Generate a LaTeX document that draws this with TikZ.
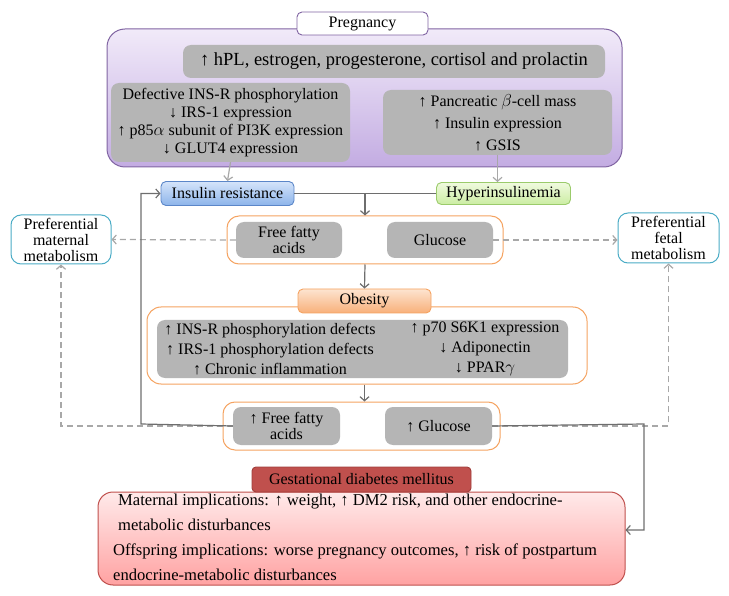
\documentclass[tikz,border=0pt]{standalone}
\usepackage{fontspec}
\setmainfont{Liberation Serif}
\usetikzlibrary{arrows.meta}

\definecolor{pregline}{HTML}{8064A2}
\definecolor{pregtop}{HTML}{F1EAF9}
\definecolor{pregbot}{HTML}{C3ACE2}
\definecolor{cellgray}{HTML}{B5B5B5}
\definecolor{irtop}{HTML}{D4E4FA}
\definecolor{irbot}{HTML}{8DB4EA}
\definecolor{irline}{HTML}{5B86C8}
\definecolor{hitop}{HTML}{F0FADE}
\definecolor{hibot}{HTML}{CBEDA3}
\definecolor{hiline}{HTML}{9BCB6B}
\definecolor{orline}{HTML}{F5A361}
\definecolor{obtop}{HTML}{FDE4D0}
\definecolor{obbot}{HTML}{F8B07A}
\definecolor{tealline}{HTML}{4BACC6}
\definecolor{gdmdark}{HTML}{C0504D}
\definecolor{gdmline}{HTML}{A03E3B}
\definecolor{gdmtop}{HTML}{FFEAEA}
\definecolor{gdmbot}{HTML}{FFA2A2}
\definecolor{connline}{HTML}{6E6E6E}
\definecolor{softline}{HTML}{A8A8A8}

\tikzset{
	cell/.style={fill=cellgray, rounded corners=8pt, inner sep=0pt, align=center},
	frame/.style={draw=orline, fill=white, rounded corners=12pt, line width=1pt},
	tag/.style={rounded corners=5pt, inner sep=0pt, line width=0.9pt},
	side/.style={draw=tealline, fill=white, rounded corners=10pt, line width=1pt, align=center, inner sep=0pt},
	tip/.style={-{Straight Barb[length=4pt,width=9pt]}},
	conn/.style={draw=connline, line width=1.2pt},
	softconn/.style={draw=softline, line width=1.2pt, tip},
	dashconn/.style={draw=softline, line width=1.2pt, dash pattern=on 6pt off 4pt, tip},
}

\begin{document}
\begin{tikzpicture}[x=1pt,y=-1pt,font=\fontsize{16}{18}\selectfont]
	\useasboundingbox (0,0) rectangle (729,596);

	% pregnancy
	\node[draw=pregline, top color=pregtop, bottom color=pregbot, rounded corners=18pt, line width=1pt,
		minimum width=515, minimum height=138] (pregbox) at (364.5,98) {};
	\node[tag, draw=pregline, fill=white, minimum width=131, minimum height=23] (preg) at (362.5,23.5) {Pregnancy};

	\node[cell, minimum width=422, minimum height=33, font=\fontsize{18.5}{20}\selectfont] (hormones) at (394,61.5)
		{↑ hPL, estrogen, progesterone, cortisol and prolactin};
	\node[cell, minimum width=239, minimum height=79, font=\fontsize{16}{18}\selectfont] (insdef) at (230.5,122.5)
		{Defective INS-R phosphorylation\\↓ IRS-1 expression\\↑ p85$\alpha$ subunit of PI3K expression\\↓ GLUT4 expression};
	\node[cell, minimum width=229, minimum height=65, font=\fontsize{16}{22}\selectfont] (betacell) at (497.5,122.5)
		{↑ Pancreatic $\beta$-cell mass\\↑ Insulin expression\\↑ GSIS};

	\node[tag, draw=irline, top color=irtop, bottom color=irbot, minimum width=133, minimum height=24] (IR) at (227.5,193.5) {Insulin resistance};
	\node[tag, draw=hiline, top color=hitop, bottom color=hibot, minimum width=134, minimum height=22] (HI) at (503.5,193.5) {Hyperinsulinemia};

	% first free fatty acids / glucose
	\node[frame, minimum width=276, minimum height=48] (ffaout) at (365,240) {};
	\node[cell, minimum width=106, minimum height=36, font=\fontsize{16}{16}\selectfont] (ffa) at (289,240) {Free fatty\\acids};
	\node[cell, minimum width=106, minimum height=36] (glu) at (440,240) {Glucose};

	\node[side, minimum width=100, minimum height=49, font=\fontsize{16}{16}\selectfont] (maternal) at (61,239.5) {Preferential\\maternal\\metabolism};
	\node[side, minimum width=101, minimum height=50, font=\fontsize{16}{16}\selectfont] (fetal) at (668.5,238) {Preferential\\fetal\\metabolism};

	% obesity
	\node[frame, rounded corners=14pt, minimum width=440, minimum height=77] (obout) at (367,345.5) {};
	\node[cell, minimum width=411, minimum height=58] (obcell) at (362.5,349) {};
	\node[tag, draw=orline, top color=obtop, bottom color=obbot, minimum width=133, minimum height=24] (obesity) at (364.5,301) {Obesity};
	\node[align=center, font=\fontsize{16}{20}\selectfont] (obleft) at (270,349)
		{↑ INS-R phosphorylation defects\\↑ IRS-1 phosphorylation defects\\↑ Chronic inflammation};
	\node[align=center, font=\fontsize{16}{20}\selectfont] (obright) at (485,349)
		{↑ p70 S6K1 expression\\↓ Adiponectin\\↓ PPAR$\gamma$};

	% second free fatty acids / glucose
	\node[frame, minimum width=277, minimum height=48] (botout) at (361.5,426) {};
	\node[cell, minimum width=107, minimum height=38, font=\fontsize{16}{16}\selectfont] (ffa2) at (286.5,426) {↑ Free fatty\\acids};
	\node[cell, minimum width=107, minimum height=38] (glu2) at (438.5,426) {↑ Glucose};

	% gestational diabetes
	\node[draw=gdmdark, top color=gdmtop, bottom color=gdmbot, rounded corners=15pt, line width=1pt,
		minimum width=527, minimum height=93] (gdm) at (361.5,538.5) {};
	\node[tag, rounded corners=4pt, draw=gdmline, fill=gdmdark, minimum width=219, minimum height=25] (gdmtag) at (361.5,479.5)
		{Gestational diabetes mellitus};
	\node[anchor=north west, inner sep=0pt, align=left, font=\fontsize{16.6}{25}\selectfont] (gdmtext) at (113,494)
		{\hspace*{5pt}Maternal implications: ↑ weight, ↑ DM2 risk, and other endocrine-\\
		\hspace*{5pt}metabolic disturbances\\
		Offspring implications: worse pregnancy outcomes, ↑ risk of postpartum\\
		endocrine-metabolic disturbances};

	% connectors
	\draw[softconn] (insdef.south) -- (IR.north);
	\draw[softconn] (betacell.south) -- (betacell.south |- HI.north);
	\draw[conn] (IR.east) -- (HI.west);
	\draw[conn,tip] (ffaout.north |- IR.east) -- (ffaout.north);
	\draw[conn,tip] (ffaout.south) -- (obesity.north);
	\draw[conn,tip] (obesity.south |- obout.south) -- (obesity.south |- botout.north);

	\draw[dashconn] (ffa.west) -- (maternal.east);
	\draw[dashconn] (glu.east) -- (glu.east -| fetal.west);
	\draw[dashconn] (ffa2.west) -| (maternal.south);
	\draw[dashconn] (glu2.east) -| (fetal.south);

	\coordinate (leftbend) at (141,424);
	\coordinate (rightbend) at (644,424);
	\draw[conn,tip] (ffa2.west) -- (leftbend) |- (IR.west);
	\draw[conn,tip] (glu2.east) -- (rightbend) |- ([yshift=8.5pt]gdm.east);
\end{tikzpicture}
\end{document}
